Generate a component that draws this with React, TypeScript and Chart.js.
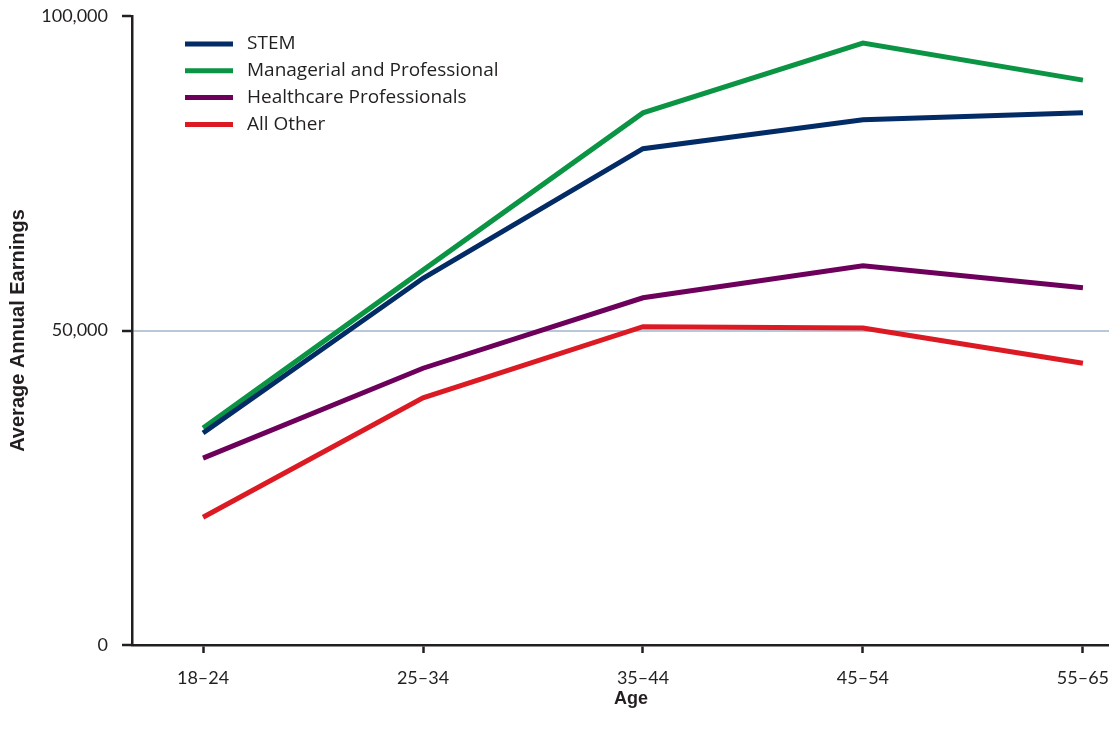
import React, { useEffect, useRef } from "react";
import { Chart, registerables } from "chart.js";

Chart.register(...registerables);

const ageGroups = ["18–24", "25–34", "35–44", "45–54", "55–65"];
const seriesNames = ["STEM", "Managerial and Professional", "Healthcare Professionals", "All Other"];
const stemValues = [33700, 58300, 78900, 83500, 84600];
const managerialValues = [34500, 59600, 84600, 95700, 89800];
const healthcareValues = [29700, 44000, 55200, 60300, 56800];
const allOtherValues = [20300, 39300, 50600, 50400, 44800];
const yTickValues = [0, 50000, 100000];
const seriesColors = ["#032b66", "#0a9444", "#6d005a", "#dc1a24"];

const TEXT = "#231f20";

const legendPlugin = {
  id: "customLegend",
  afterDraw(chart: any) {
    const ctx = chart.ctx;
    ctx.save();
    chart.data.datasets.forEach((ds: any, i: number) => {
      const y = 44 + i * 26.8;
      ctx.strokeStyle = ds.borderColor;
      ctx.lineWidth = 5;
      ctx.lineCap = "butt";
      ctx.beginPath();
      ctx.moveTo(185, y);
      ctx.lineTo(233, y);
      ctx.stroke();
      ctx.fillStyle = TEXT;
      ctx.font = "19px 'Open Sans'";
      ctx.textBaseline = "middle";
      ctx.textAlign = "left";
      ctx.fillText(ds.label, 247, y);
    });
    ctx.restore();
  },
};

export default function App() {
  const ref = useRef<HTMLCanvasElement>(null);
  useEffect(() => {
    if (!ref.current) return;
    const all = [stemValues, managerialValues, healthcareValues, allOtherValues];
    const chart = new Chart(ref.current, {
      type: "line",
      data: {
        datasets: all.map((vals, i) => ({
          label: seriesNames[i],
          data: vals.map((v, j) => ({ x: j, y: v })),
          borderColor: seriesColors[i],
          backgroundColor: seriesColors[i],
          borderWidth: 5,
          pointRadius: 0,
          tension: 0,
          fill: false,
        })),
      },
      options: {
        responsive: false,
        animation: false,
        layout: { autoPadding: false, padding: { top: 16, right: 0, left: 0, bottom: 0 } },
        plugins: { legend: { display: false }, tooltip: { enabled: false } },
        scales: {
          x: {
            type: "linear",
            min: -0.323,
            max: 4.214,
            afterFit: (s: any) => {
              s.height = 93;
              s.paddingLeft = 0;
              s.paddingRight = 0;
            },
            afterBuildTicks: (s: any) => { s.ticks = ageGroups.map((_, i) => ({ value: i })); },
            border: { display: true, color: TEXT, width: 2.5 },
            grid: { drawOnChartArea: false, drawTicks: true, tickLength: 8, tickColor: TEXT, tickWidth: 2.5 },
            ticks: {
              autoSkip: false,
              maxRotation: 0,
              padding: 14,
              color: TEXT,
              font: { family: "Lato", size: 18 },
              callback: (v: any) => ageGroups[v] ?? "",
            },
            title: {
              display: true,
              text: "Age",
              color: TEXT,
              font: { family: "'Liberation Sans', Arial", size: 18, weight: "bold" },
              padding: { top: 0, bottom: 28 },
            },
          },
          y: {
            min: 0,
            max: 100000,
            afterFit: (s: any) => {
              s.width = 132;
              s.paddingTop = 0;
              s.paddingBottom = 0;
            },
            afterBuildTicks: (s: any) => { s.ticks = yTickValues.map((v) => ({ value: v })); },
            border: { display: true, color: TEXT, width: 2.5 },
            grid: {
              drawOnChartArea: true,
              drawTicks: true,
              tickLength: 10,
              tickColor: TEXT,
              tickWidth: 2.5,
              lineWidth: 2,
              color: (c: any) => (c.tick && c.tick.value === 50000 ? "#b8c8d8" : "rgba(0,0,0,0)"),
            },
            ticks: {
              padding: 14,
              color: TEXT,
              font: { family: "Lato", size: 18 },
              callback: (v: any) => Number(v).toLocaleString("en-US"),
            },
            title: {
              display: true,
              text: "Average Annual Earnings",
              color: TEXT,
              font: { family: "'Liberation Sans', Arial", size: 20, weight: "bold" },
              padding: { top: 6, bottom: 0 },
            },
          },
        },
      },
      plugins: [legendPlugin],
    });
    return () => chart.destroy();
  }, []);
  return (
    <div style={{ position: "absolute", left: 0, top: 0, width: 1109, height: 738, overflow: "hidden", background: "#fff" }}>
      <canvas ref={ref} width={1130} height={738} />
    </div>
  );
}
